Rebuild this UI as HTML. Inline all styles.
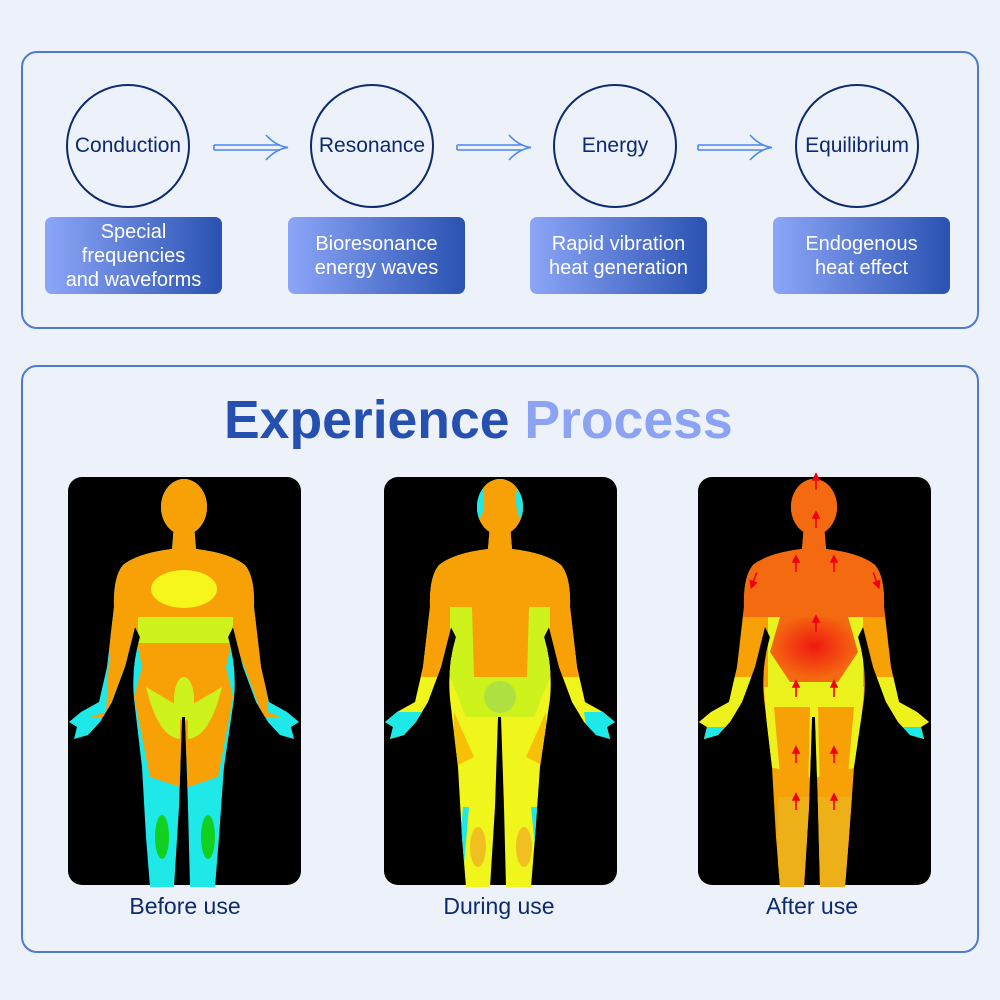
<!DOCTYPE html>
<html><head><meta charset="utf-8"><style>
body{margin:0;width:1000px;height:1000px;background:#edf1f9;font-family:"Liberation Sans","DejaVu Sans",sans-serif;position:relative;overflow:hidden}
.box{position:absolute;border:2.5px solid #5079d2;border-radius:16px;background:#edf2fa;box-sizing:border-box}
.circ{position:absolute;width:124px;height:124px;border:2px solid #0d2a6e;border-radius:50%;box-sizing:border-box;display:flex;align-items:center;justify-content:center;font-size:21px;color:#0d2a6e}
.lab{position:absolute;width:177px;height:77px;border-radius:7px;background:linear-gradient(90deg,#8ca6f8,#2a52b2);color:#fff;font-size:20px;line-height:24px;display:flex;align-items:center;justify-content:center;text-align:center}
.cap{position:absolute;font-size:23px;color:#0d2a6e;text-align:center;width:240px}
</style></head><body>
<div class="box" style="left:21px;top:51px;width:958px;height:278px"></div>
<div class="circ" style="left:66px;top:84px">Conduction</div>
<div class="circ" style="left:310px;top:84px">Resonance</div>
<div class="circ" style="left:553px;top:84px">Energy</div>
<div class="circ" style="left:795px;top:84px">Equilibrium</div>
<svg style="position:absolute;left:0;top:0" width="1000" height="330">
<g fill="none" stroke="#4a86f0" stroke-width="1.6">
<g id="ar"><path d="M214,145 L280,145 M214,150 L280,150 M214,145 L214,150"/><path d="M266,135 Q276,146 288,147.5 Q276,149 266,160"/></g>
<use href="#ar" x="243"/><use href="#ar" x="484"/>
</g></svg>
<div class="lab" style="left:45px;top:217px">Special<br>frequencies<br>and waveforms</div>
<div class="lab" style="left:288px;top:217px">Bioresonance<br>energy waves</div>
<div class="lab" style="left:530px;top:217px">Rapid vibration<br>heat generation</div>
<div class="lab" style="left:773px;top:217px">Endogenous<br>heat effect</div>

<div class="box" style="left:21px;top:365px;width:958px;height:588px"></div>
<div style="position:absolute;left:224px;top:390px;font-size:53.5px;font-weight:bold;letter-spacing:0px;white-space:nowrap"><span style="color:#2650b0">Experience</span> <span style="color:#8ca2f2">Process</span></div>

<svg style="position:absolute;left:0;top:0" width="1000" height="1000">
<defs>
<clipPath id="bc">
<ellipse cx="116" cy="30" rx="23" ry="28"/>
<path d="M106,48 L126,48 L128,72 Q162,76 177,88 Q187,100 186,130 L193,190 L201,225 L219,235 L231,245 L223,250 L226,262 L212,258 L200,245 L188,225 L175,190 L165,150 L160,160 Q169,190 166,222 L156,290 L151,360 L147,410 L122,410 L120,330 L117,240 L114,240 L111,330 L106,410 L82,410 L78,360 L74,290 L66,222 Q63,190 72,160 L67,150 L57,190 L44,225 L32,245 L20,258 L6,262 L9,250 L1,245 L13,235 L31,225 L39,190 L46,130 Q45,100 55,88 Q70,76 104,72 Z"/>
</clipPath>
<radialGradient id="hot" cx="0.5" cy="0.45" r="0.5"><stop offset="0" stop-color="#f01810"/><stop offset="1" stop-color="#f46a10"/></radialGradient>
<g id="ua"><path d="M0,8 L0,-4" fill="none"/><path d="M-3,-2 L0,-8 L3,-2Z"/></g>
</defs>
<rect x="68" y="477" width="233" height="408" rx="14" fill="#000"/>
<rect x="384" y="477" width="233" height="408" rx="14" fill="#000"/>
<rect x="698" y="477" width="233" height="408" rx="14" fill="#000"/>

<g transform="translate(68,477)"><g clip-path="url(#bc)">
<rect width="233" height="410" fill="#1ee8e8"/>
<path d="M60,0 L172,0 L172,80 L190,95 L200,235 L212,240 L195,240 L165,160 L158,190 L165,220 L150,300 L120,310 L116,240 L112,310 L82,300 L66,220 L74,190 L68,160 L38,240 L22,240 L38,235 L46,95 L60,80Z" fill="#f7a106"/>
<ellipse cx="116" cy="112" rx="33" ry="19" fill="#f6f51c"/>
<rect x="70" y="140" width="95" height="26" fill="#cdf21c"/>
<path d="M78,210 Q90,260 112,262 L112,230 Z M154,210 Q142,260 120,262 L120,230 Z" fill="#cdf21c"/>
<ellipse cx="116" cy="222" rx="10" ry="22" fill="#cdf21c"/>
<ellipse cx="94" cy="360" rx="7" ry="22" fill="#12d020"/>
<ellipse cx="140" cy="360" rx="7" ry="22" fill="#12d020"/>
</g></g>

<g transform="translate(384,477)"><g clip-path="url(#bc)">
<rect width="233" height="410" fill="#f0f51c"/>
<rect x="0" y="0" width="233" height="200" fill="#f7a106"/>
<path d="M0,235 L38,235 L30,270 L0,270Z M200,235 L233,235 L233,270 L205,270Z" fill="#1ee8e8"/>
<ellipse cx="94" cy="22" rx="6" ry="20" fill="#1ee8e8"/><ellipse cx="138" cy="22" rx="6" ry="20" fill="#1ee8e8"/>
<path d="M66,130 L88,130 L90,200 L66,200 Z M145,130 L166,130 L166,200 L143,200Z" fill="#cdf21c"/>
<path d="M66,200 L166,200 L150,240 L82,240Z" fill="#cdf21c"/>
<ellipse cx="116" cy="220" rx="16" ry="16" fill="#aee040"/>
<path d="M70,235 L90,280 L70,290Z M162,235 L142,280 L162,290Z" fill="#f7c006"/>
<ellipse cx="94" cy="370" rx="8" ry="20" fill="#f0c020"/><ellipse cx="140" cy="370" rx="8" ry="20" fill="#f0c020"/>
<path d="M82,330 L75,410 M150,330 L158,410" stroke="#1ee8e8" stroke-width="6"/>
</g></g>

<g transform="translate(698,477)"><g clip-path="url(#bc)">
<rect width="233" height="410" fill="#f7a106"/>
<rect x="0" y="0" width="233" height="140" fill="#f46a10"/>
<path d="M0,200 L60,200 L40,270 L0,270Z M175,200 L233,200 L233,270 L192,270Z" fill="#eef21c"/>
<path d="M0,250 L30,250 L20,280 L0,280Z M205,250 L233,250 L233,280 L212,280Z" fill="#1ee8e8"/>
<rect x="70" y="140" width="95" height="70" fill="#e8f21c"/>
<path d="M82,140 L150,140 L160,175 L140,205 L92,205 L72,175Z" fill="url(#hot)"/>
<path d="M66,210 L166,210 L160,290 L120,300 L112,300 L72,290Z" fill="#eef21c"/>
<path d="M76,230 L112,230 L110,320 L84,320Z M156,230 L120,230 L122,320 L148,320Z" fill="#f7a106"/>
<rect x="80" y="320" width="75" height="90" fill="#eeb018"/>
</g>
<g stroke="#f00010" stroke-width="1.6" fill="#f00010">
<use href="#ua" x="118" y="5"/><use href="#ua" x="118" y="43"/>
<use href="#ua" x="98" y="87"/><use href="#ua" x="136" y="87"/>
<use href="#ua" x="118" y="147"/>
<use href="#ua" x="98" y="212"/><use href="#ua" x="136" y="212"/>
<use href="#ua" x="98" y="278"/><use href="#ua" x="136" y="278"/>
<use href="#ua" x="98" y="325"/><use href="#ua" x="136" y="325"/>
<use href="#ua" transform="translate(56,103) rotate(200)"/>
<use href="#ua" transform="translate(178,103) rotate(160)"/>
</g></g>
</svg>
<div class="cap" style="left:65px;top:893px">Before use</div>
<div class="cap" style="left:379px;top:893px">During use</div>
<div class="cap" style="left:692px;top:893px">After use</div>
</body></html>
